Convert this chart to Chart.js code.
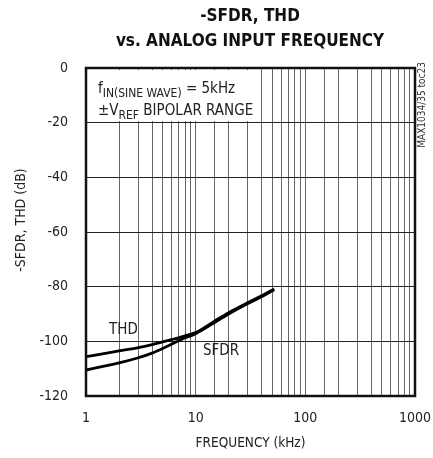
<!DOCTYPE html>
<html><head><meta charset="utf-8">
<script src="https://cdn.jsdelivr.net/npm/chart.js@4"></script>
<style>html,body{margin:0;padding:0;background:#fff;}#wrap{width:433px;height:458px;}</style>
</head><body><div id="wrap"><canvas id="c" width="433" height="458"></canvas></div>
<script>
const FONT = "'DejaVu Sans Condensed','Liberation Sans',sans-serif";
const titleLines = ["-SFDR, THD", "vs. ANALOG INPUT FREQUENCY"];
const xTickLabels = [1, 10, 100, 1000];
const yTicks = [0, -20, -40, -60, -80, -100, -120];
const freq = [1, 1.5, 2, 3, 4, 5, 6, 7, 8, 10, 15, 20, 30, 40, 52];
const thd  = [-105.6, -104.4, -103.5, -102.3, -101.2, -100.2, -99.4, -98.7, -98.0, -96.8, -92.5, -89.5, -85.8, -83.3, -80.8];
const sfdr = [-110.5, -109.0, -107.9, -106.0, -104.3, -102.6, -101.1, -99.8, -98.7, -97.2, -93.0, -90.0, -86.2, -83.7, -81.1];
const seriesNames = ["THD", "SFDR"];
const yTitle = '-SFDR, THD (dB)';

const overlay = {
  id: 'overlay',
  beforeDatasetsDraw(chart) {
    const ctx = chart.ctx, a = chart.chartArea;
    ctx.save();
    ctx.fillStyle = '#fff';
    ctx.fillRect(a.left + 1, a.top + 2, 169, 51);
    ctx.restore();
  },
  afterDatasetsDraw(chart) {
    const ctx = chart.ctx, a = chart.chartArea;
    ctx.save();
    ctx.strokeStyle = '#111'; ctx.lineWidth = 2.5;
    ctx.strokeRect(a.left, a.top, a.right - a.left, a.bottom - a.top);
    ctx.fillStyle = '#111'; ctx.textAlign = 'center'; ctx.textBaseline = 'middle';
    ctx.font = "bold 17px " + FONT;
    ctx.fillText(titleLines[0], 250, 17);
    ctx.fillText(titleLines[1], 250, 42);
    ctx.textAlign = 'left'; ctx.textBaseline = 'alphabetic'; ctx.fillStyle = '#222';
    let x = 98;
    ctx.font = "15px " + FONT; ctx.fillText('f', x, 93); x += ctx.measureText('f').width;
    ctx.font = "12px " + FONT; ctx.fillText('IN(SINE WAVE)', x, 97); x += ctx.measureText('IN(SINE WAVE)').width;
    ctx.font = "15px " + FONT; ctx.fillText(' = 5kHz', x, 93);
    x = 98;
    ctx.fillText('\u00b1V', x, 115); x += ctx.measureText('\u00b1V').width;
    ctx.font = "12px " + FONT; ctx.fillText('REF', x, 119); x += ctx.measureText('REF').width;
    ctx.font = "15px " + FONT; ctx.fillText(' BIPOLAR RANGE', x, 115);
    ctx.font = "15px " + FONT;
    ctx.fillText(seriesNames[0], 109, 334);
    ctx.fillText(seriesNames[1], 203, 355);
    ctx.save();
    ctx.translate(21, 220); ctx.rotate(-Math.PI / 2);
    ctx.textAlign = 'center'; ctx.textBaseline = 'middle';
    ctx.font = "14px " + FONT;
    ctx.fillText(yTitle, 0, 0);
    ctx.restore();
    ctx.translate(422.5, 62); ctx.rotate(-Math.PI / 2);
    ctx.textAlign = 'right'; ctx.textBaseline = 'middle';
    ctx.font = "10px " + FONT; ctx.fillStyle = '#333';
    ctx.fillText('MAX1034/35 toc23', 0, 0);
    ctx.restore();
  }
};

new Chart(document.getElementById('c'), {
  type: 'line',
  data: {
    datasets: [
      { label: seriesNames[0], data: freq.map((f, i) => ({x: f, y: thd[i]})), borderColor: '#000', borderWidth: 2.8, pointRadius: 0, cubicInterpolationMode: 'monotone', fill: false },
      { label: seriesNames[1], data: freq.map((f, i) => ({x: f, y: sfdr[i]})), borderColor: '#000', borderWidth: 2.8, pointRadius: 0, cubicInterpolationMode: 'monotone', fill: false }
    ]
  },
  options: {
    responsive: false, animation: false, devicePixelRatio: 1,
    layout: { padding: { top: 68, right: 18, left: 0, bottom: 0 } },
    plugins: { legend: { display: false }, tooltip: { enabled: false } },
    scales: {
      x: {
        type: 'logarithmic', min: 1, max: 1000,
        afterFit: s => { s.height = 62; s.paddingLeft = 0; s.paddingRight = 0; },
        grid: { color: '#666', lineWidth: 1, drawTicks: false },
        border: { display: false },
        ticks: {
          autoSkip: false, maxRotation: 0, padding: 14, color: '#222',
          font: { family: FONT, size: 14 },
          callback: v => xTickLabels.includes(v) ? String(v) : ''
        },
        title: { display: true, text: 'FREQUENCY (kHz)', color: '#222', font: { family: FONT, size: 13.5 }, padding: { top: 6, bottom: 6 } }
      },
      y: {
        min: -120, max: 0,
        afterFit: s => { s.width = 86; s.paddingTop = 0; s.paddingBottom = 0; },
        afterBuildTicks: s => { s.ticks = yTicks.map(v => ({value: v})); },
        grid: { color: '#222', lineWidth: 1, drawTicks: false },
        border: { display: false },
        ticks: { padding: 18, color: '#222', font: { family: FONT, size: 14 } },
        title: { display: false }
      }
    }
  },
  plugins: [overlay]
});
</script></body></html>
